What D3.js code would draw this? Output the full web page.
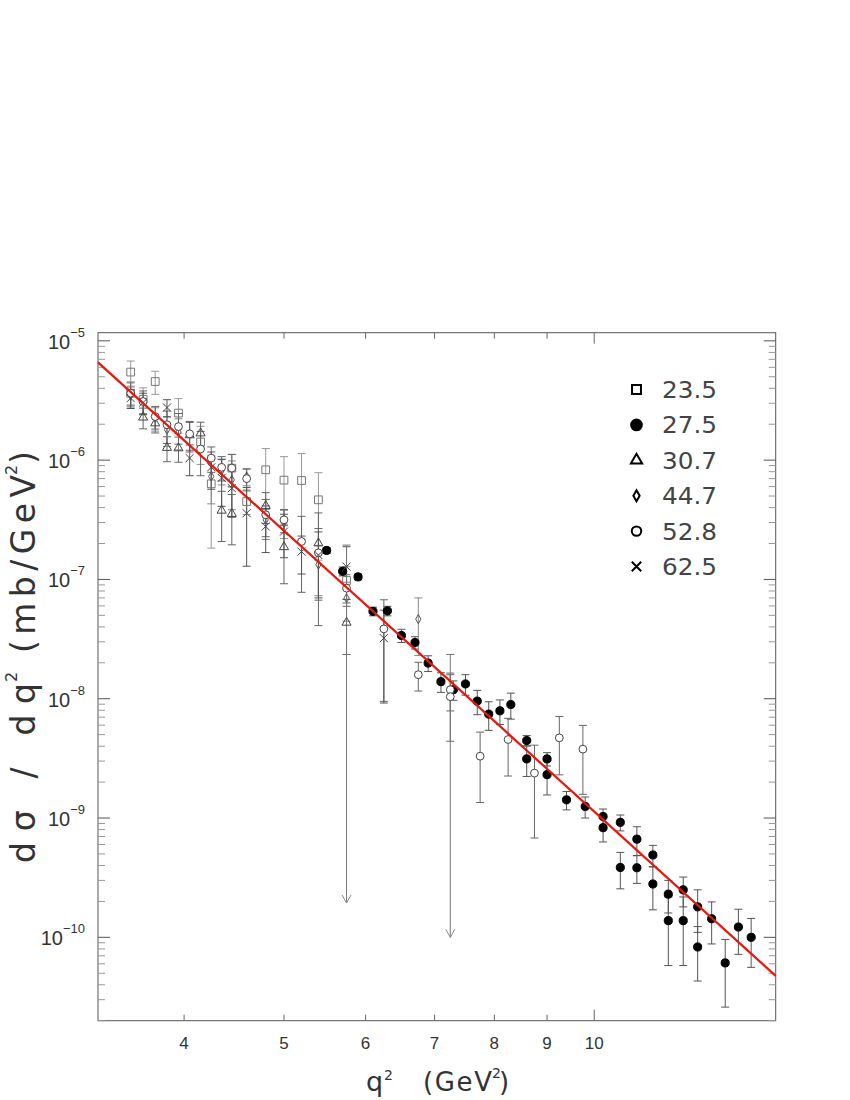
<!DOCTYPE html>
<html>
<head>
<meta charset="utf-8">
<script src="https://cdnjs.cloudflare.com/ajax/libs/d3/7.8.5/d3.min.js"></script>
<style>
body{margin:0;background:#fff}
text{font-family:"Liberation Sans",Arial,sans-serif;fill:#333}
.title,.leg{font-family:"DejaVu Sans",sans-serif}
</style>
</head>
<body>
<svg class="chart"></svg>
<script>
// points are [q2, dsigma/dq2, error]
var s235 = [[3.55,5.47e-6,1.3e-6],[3.55,3.64e-6,0.9e-6],[3.65,3.24e-6,0.8e-6],[3.75,4.56e-6,1.0e-6],
  [3.95,2.48e-6,0.8e-6],[4.15,1.42e-6,0.5e-6],[4.25,6.33e-7,4.5e-7],[4.45,8.57e-7,2.6e-7],
  [4.6,4.5e-7,1.0e-7],[4.8,8.3e-7,4.2e-7],[5.0,6.8e-7,3.9e-7],[5.2,6.75e-7,4.6e-7],
  [5.4,4.65e-7,3.2e-7],[5.75,9.8e-8,3e-8]];
var s275 = [[5.5,1.75e-7,1.0e-8],[5.7,1.17e-7,1.0e-8],[5.9,1.05e-7,6e-9],[6.1,5.4e-8,4.5e-9],
  [6.3,5.45e-8,5e-9],[6.5,3.39e-8,4.3e-9],[6.7,2.96e-8,3.5e-9],[6.9,1.99e-8,3e-9],
  [7.1,1.39e-8,2.6e-9],[7.3,1.19e-8,2.2e-9],[7.5,1.33e-8,2.6e-9],[7.7,9.55e-9,2.2e-9],
  [7.9,7.43e-9,2e-9],[8.1,7.92e-9,1.85e-9],[8.3,8.94e-9,2.2e-9],[8.6,4.46e-9,0.45e-9],
  [8.6,3.13e-9,0.9e-9],[9.0,3.13e-9,0.4e-9],[9.0,2.31e-9,0.75e-9],[9.4,1.42e-9,0.25e-9],
  [9.8,1.25e-9,0.25e-9],[10.2,1.03e-9,0.16e-9],[10.2,8.3e-10,0.2e-9],[10.6,9.2e-10,0.14e-9],
  [10.6,3.85e-10,1.3e-10],[11.0,6.65e-10,1.8e-10],[11.0,3.83e-10,1.0e-10],[11.4,4.9e-10,1.0e-10],
  [11.4,2.8e-10,1.1e-10],[11.8,2.3e-10,0.7e-10],[11.8,1.38e-10,0.8e-10],[12.2,2.5e-10,0.7e-10],
  [12.2,1.38e-10,0.8e-10],[12.6,1.8e-10,0.7e-10],[12.6,8.3e-11,4e-11],[13.0,1.43e-10,5.5e-11],
  [13.4,6.1e-11,3.5e-11],[13.8,1.22e-10,5e-11],[14.2,1.0e-10,4.4e-11]];
var s307 = [[3.65,2.28e-6,0.45e-6],[3.75,2.04e-6,0.35e-6],[3.85,1.27e-6,0.3e-6],[3.95,1.26e-6,0.3e-6],
  [4.05,1.62e-6,0.45e-6],[4.15,1.68e-6,0.4e-6],[4.35,3.78e-7,1.7e-7],[4.45,3.55e-7,1.6e-7],
  [4.8,4.14e-7,1.2e-7],[5.0,1.87e-7,0.95e-7],[5.4,2.01e-7,1.6e-7],[5.75,4.35e-8,2e-8]];
var s447 = [[3.55,3.5e-6,0.6e-6],[3.75,2.25e-6,0.5e-6],[3.85,1.8e-6,0.5e-6],[3.95,1.72e-6,0.5e-6],
  [4.25,7.3e-7,3e-7],[4.35,8.2e-7,2e-7],[4.45,6.84e-7,3e-7],[4.6,7.29e-7,1.2e-7],
  [4.8,3.16e-7,1e-7],[5.0,3.0e-7,0.8e-7],[5.4,1.33e-7,0.6e-7],[5.75,6.97e-8,2.5e-8],
  [6.75,4.65e-8,2.35e-8]];
var s528 = [[3.55,3.64e-6,0.8e-6],[3.65,3.1e-6,0.7e-6],[3.75,2.32e-6,0.5e-6],[3.85,1.98e-6,0.6e-6],
  [3.95,1.91e-6,0.55e-6],[4.05,1.66e-6,0.45e-6],[4.15,1.24e-6,0.5e-6],[4.25,1.04e-6,0.25e-6],
  [4.35,8.7e-7,2e-7],[4.45,8.57e-7,2.6e-7],[4.6,7.0e-7,1.4e-7],[4.8,3.48e-7,1.2e-7],
  [5.0,3.16e-7,0.7e-7],[5.2,2.08e-7,1.3e-7],[5.4,1.67e-7,1e-7],[5.75,8.45e-8,2.5e-8],
  [6.25,3.85e-8,2.9e-8],[6.75,1.59e-8,4.3e-9],[7.25,1.19e-8,4e-9],[7.25,1.04e-8,6e-9],
  [7.75,3.3e-9,1.95e-9],[8.25,4.55e-9,2.3e-9],[8.75,2.38e-9,1.7e-9],[9.25,4.7e-9,2.4e-9],
  [9.75,3.78e-9,2.2e-9]];
var s625 = [[3.55,3.31e-6,0.6e-6],[3.65,3.04e-6,0.6e-6],[3.85,2.76e-6,0.45e-6],[4.05,1.04e-6,0.3e-6],
  [4.25,8.7e-7,3e-7],[4.35,7.1e-7,3e-7],[4.45,5.82e-7,2.5e-7],[4.6,3.59e-7,2.3e-7],
  [4.8,2.78e-7,1.1e-7],[5.0,2.52e-7,1e-7],[5.2,1.71e-7,0.6e-7],[5.4,1.6e-7,0.9e-7],
  [5.75,1.28e-7,0.6e-7],[6.25,3.22e-8,2.3e-8]];
var energies = ['23.5','27.5','30.7','44.7','52.8','62.5'];
// error bars running off the bottom, drawn as arrows
var arrowQ2 = [5.75, 7.25];
var arrowTop = [1.94e-7, 2.35e-8];
var arrowTip = [1.94e-10, 1.0e-10];
// fitted power law, end points
var fitQ2 = [3.3, 15];
var fitVal = [6.6e-6, 4.75e-11];
var xTicks = [4,5,6,7,8,9,10];
var yTicks = [1e-10,1e-9,1e-8,1e-7,1e-6,1e-5];
var yTickExp = ['\u221210','\u22129','\u22128','\u22127','\u22126','\u22125'];

var svg = d3.select('.chart').attr('width',850).attr('height',1100);

var xScale = d3.scaleLog().domain([3.3,15]).range([98,775.7]);
var yScale = d3.scaleLog().domain([2.0e-11,1.17e-5]).range([1020.7,332.7]);
var x0 = 98, x1 = 775.7, y0 = 1020.7, y1 = 332.7;

// frame
svg.append('rect')
   .attr('x',x0).attr('y',y1)
   .attr('width',x1-x0).attr('height',y0-y1)
   .attr('fill','none').attr('stroke','#555').attr('stroke-width',1);

// x ticks, bottom and top, pointing inward
xTicks.forEach(function(t){
    var len = t==10 ? 11 : 6;
    var px = xScale(t);
    svg.append('line').attr('x1',px).attr('x2',px).attr('y1',y0).attr('y2',y0-len).attr('stroke','#666');
    svg.append('line').attr('x1',px).attr('x2',px).attr('y1',y1).attr('y2',y1+len).attr('stroke','#666');
    svg.append('text')
       .attr('x',px).attr('y',1049)
       .attr('text-anchor','middle')
       .style('font-size','17px')
       .text(t);
});

// y ticks, left and right, with minor ticks
for (var e=-11; e<=-5; e++) {
    for (var k=1; k<=9; k++) {
        var v = k*Math.pow(10,e);
        if (v < 2.0e-11 || v > 1.17e-5) continue;
        var py = yScale(v);
        var len = k==1 ? 12 : 7;
        var col = k==1 ? '#555' : '#999';
        svg.append('line').attr('x1',x0).attr('x2',x0+len).attr('y1',py).attr('y2',py).attr('stroke',col);
        svg.append('line').attr('x1',x1).attr('x2',x1-len).attr('y1',py).attr('y2',py).attr('stroke',col);
    }
}
yTicks.forEach(function(t,i){
    var lab = svg.append('text')
       .attr('x',85).attr('y',yScale(t)+8)
       .attr('text-anchor','end');
    lab.append('tspan').style('font-size','20px').text('10');
    lab.append('tspan').attr('dy',-12).style('font-size','13px').text(yTickExp[i]);
});

// axis titles
svg.append('text').attr('class','title').attr('x',366).attr('y',1091).style('font-size','27px').text('q');
svg.append('text').attr('class','title').attr('x',384).attr('y',1080).style('font-size','14px').text('2');
svg.append('text').attr('class','title').attr('x',423).attr('y',1091).style('font-size','26px')
   .attr('textLength',69).attr('lengthAdjust','spacing').text('(GeV');
svg.append('text').attr('class','title').attr('x',492).attr('y',1078).style('font-size','14px').text('2');
svg.append('text').attr('class','title').attr('x',499).attr('y',1091).style('font-size','26px').text(')');

var yt = svg.append('g').attr('transform','translate(35,0) rotate(-90)');
yt.append('text').attr('class','title').attr('x',-863).attr('y',0).style('font-size','33px')
  .attr('textLength',180).attr('lengthAdjust','spacing').text('d\u03c3 / dq');
yt.append('text').attr('class','title').attr('x',-682).attr('y',-18).style('font-size','16px').text('2');
yt.append('text').attr('class','title').attr('x',-653).attr('y',0).style('font-size','33px')
  .attr('textLength',178).attr('lengthAdjust','spacing').text('(mb/GeV');
yt.append('text').attr('class','title').attr('x',-475).attr('y',-18).style('font-size','16px').text('2');
yt.append('text').attr('class','title').attr('x',-464).attr('y',0).style('font-size','33px').text(')');

var series = [
    {data:s235, sym:d3.symbolSquare, size:60, fill:'none', stroke:'#777', bar:'#999'},
    {data:s275, sym:d3.symbolCircle, size:52, fill:'#000', stroke:'#000', bar:'#555'},
    {data:s307, sym:d3.symbolTriangle, size:36, fill:'none', stroke:'#444', bar:'#666'},
    {data:s447, sym:d3.symbolDiamond, size:24, fill:'none', stroke:'#555', bar:'#888'},
    {data:s528, sym:d3.symbolCircle, size:48, fill:'#fff', stroke:'#444', bar:'#666'},
    {data:s625, sym:d3.symbolTimes, size:44, fill:'none', stroke:'#444', bar:'#555'}
];

// error bars
var bars = svg.append('g');
series.forEach(function(s){
    s.data.forEach(function(d){
        var px = xScale(d[0]);
        var top = yScale(d[1]+d[2]);
        var bot = yScale(Math.max(d[1]-d[2], 2.1e-11));
        bars.append('line').attr('x1',px).attr('x2',px).attr('y1',top).attr('y2',bot).attr('stroke',s.bar);
        bars.append('line').attr('x1',px-4).attr('x2',px+4).attr('y1',top).attr('y2',top).attr('stroke',s.bar);
        bars.append('line').attr('x1',px-4).attr('x2',px+4).attr('y1',bot).attr('y2',bot).attr('stroke',s.bar);
    });
});

arrowQ2.forEach(function(q,i){
    var px = xScale(q);
    var top = yScale(arrowTop[i]);
    var tip = yScale(arrowTip[i]);
    bars.append('line').attr('x1',px).attr('x2',px).attr('y1',top).attr('y2',tip).attr('stroke','#777');
    bars.append('line').attr('x1',px-4).attr('x2',px+4).attr('y1',top).attr('y2',top).attr('stroke','#777');
    bars.append('path')
        .attr('d','M'+(px-4.5)+','+(tip-8)+'L'+px+','+tip+'L'+(px+4.5)+','+(tip-8))
        .attr('fill','none').attr('stroke','#888');
});

// markers
series.forEach(function(s){
    svg.append('g').selectAll('path').data(s.data)
       .enter()
       .append('path')
       .attr('transform',function(d){ return 'translate('+xScale(d[0])+','+yScale(d[1])+')'; })
       .attr('d',d3.symbol().type(s.sym).size(s.size))
       .attr('fill',s.fill)
       .attr('stroke',s.stroke)
       .attr('stroke-width',1);
});

// fit line
var line = d3.line()
    .x(function(d,i){ return xScale(fitQ2[i]); })
    .y(function(d){ return yScale(d); });
svg.append('path')
   .attr('d',line(fitVal))
   .attr('fill','none')
   .attr('stroke','#e8160c')
   .attr('stroke-width',2.2);

// legend
var legSym = [
    {sym:d3.symbolSquare, size:80, fill:'none'},
    {sym:d3.symbolCircle, size:90, fill:'#000'},
    {sym:d3.symbolTriangle, size:55, fill:'none'},
    {sym:d3.symbolDiamond, size:34, fill:'none'},
    {sym:d3.symbolCircle, size:70, fill:'none'},
    {sym:d3.symbolTimes, size:60, fill:'none'}
];
energies.forEach(function(en,i){
    var ly = 389.5 + i*35.4;
    svg.append('path')
       .attr('transform','translate(636.5,'+ly+')')
       .attr('d',d3.symbol().type(legSym[i].sym).size(legSym[i].size))
       .attr('fill',legSym[i].fill)
       .attr('stroke','#000')
       .attr('stroke-width',2);
    svg.append('text')
       .attr('class','leg')
       .attr('x',662).attr('y',ly+8.5)
       .attr('textLength',55).attr('lengthAdjust','spacingAndGlyphs')
       .style('font-size','23px')
       .style('fill','#444')
       .text(en);
});
</script>
</body>
</html>
